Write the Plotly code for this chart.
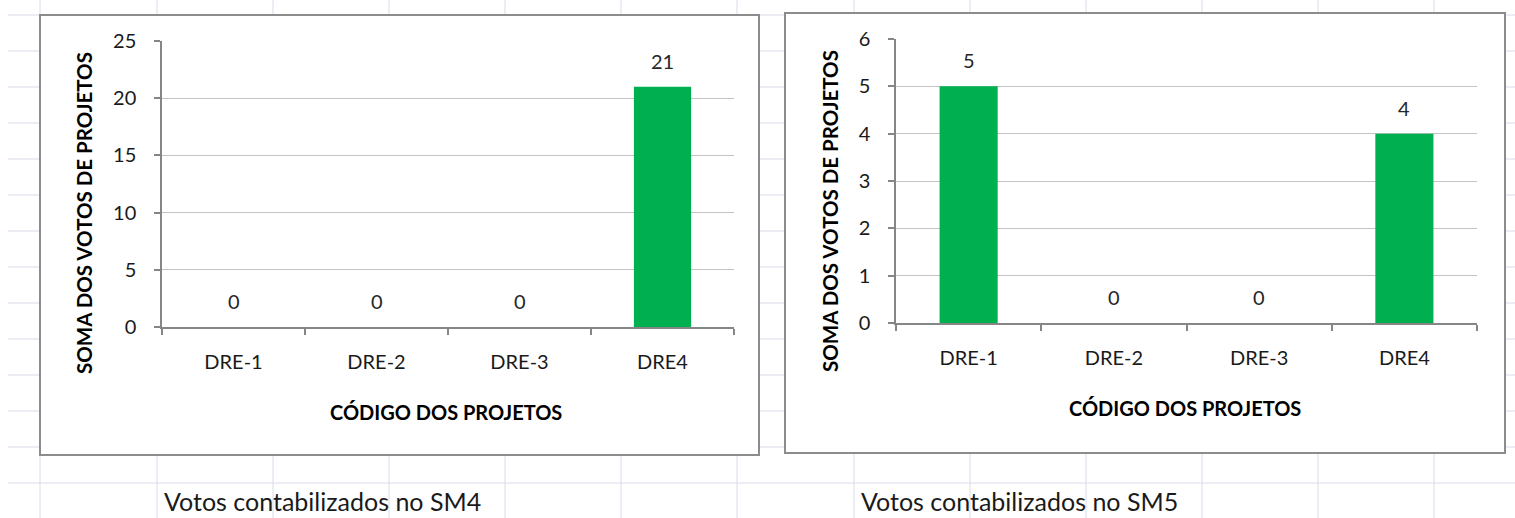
import plotly.graph_objects as go

# ---------------- data ----------------
categories = ["DRE-1", "DRE-2", "DRE-3", "DRE4"]
votes_sm4 = [0, 0, 0, 21]
votes_sm5 = [5, 0, 0, 4]
ticks_sm4 = [0, 5, 10, 15, 20, 25]
ticks_sm5 = [0, 1, 2, 3, 4, 5, 6]
y_title = "SOMA DOS VOTOS DE PROJETOS"
x_title = "CÓDIGO DOS PROJETOS"
sheet_notes = ["Votos contabilizados no SM4", "Votos contabilizados no SM5"]

# ---------------- layout helpers ----------------
W, H = 1515, 518
FONT = "Lato, 'Open Sans', sans-serif"
GREEN = "#00B050"
AXIS = "#868686"
GRID = "#c4c4c4"
SHEET = "#dadbea"
FRAME = "#8c8c8c"


def px(x):
    return x / W


def py(y):
    return 1 - y / H


# chart placement (pixels): frame, plot area, title positions
charts = [
    dict(frame=(40, 15, 759, 455), plot=(162, 41, 734, 327), ytx=84, yty=213,
         xtx=446, xty=412, note_x=162),
    dict(frame=(785, 13, 1505, 453), plot=(896, 39, 1477, 323), ytx=830, yty=211,
         xtx=1185, xty=408, note_x=859),
]
series = [votes_sm4, votes_sm5]
tickvals = [ticks_sm4, ticks_sm5]

fig = go.Figure()
shapes = []
annotations = []

# spreadsheet grid
col_x = [40, 157, 273, 389, 505, 621, 737, 854, 970, 1086, 1202, 1318, 1434]
row_y = [15, 51, 87, 123, 159, 195, 231, 267, 303, 339, 375, 411, 447, 483]
for cx in col_x:
    shapes.append(dict(type="line", xref="paper", yref="paper", x0=px(cx), x1=px(cx),
                       y0=0, y1=1, line=dict(color=SHEET, width=1), layer="below"))
for ry in row_y:
    shapes.append(dict(type="line", xref="paper", yref="paper", x0=px(8), x1=1,
                       y0=py(ry), y1=py(ry), line=dict(color=SHEET, width=1), layer="below"))

for i, ch in enumerate(charts):
    n = "" if i == 0 else str(i + 1)
    xa, ya = "x" + n, "y" + n
    fx0, fy0, fx1, fy1 = ch["frame"]
    shapes.append(dict(type="rect", xref="paper", yref="paper", x0=px(fx0), x1=px(fx1),
                       y0=py(fy1), y1=py(fy0), fillcolor="white",
                       line=dict(color=FRAME, width=2), layer="below"))
    x0, y0, x1, y1 = ch["plot"]
    vals = series[i]
    fig.add_trace(go.Bar(x=categories, y=vals, xaxis=xa, yaxis=ya, width=0.4,
                         marker=dict(color=GREEN, line=dict(width=0)),
                         hoverinfo="x+y", showlegend=False))
    tv = tickvals[i]
    fig.layout["xaxis" + n] = dict(
        domain=[px(x0), px(x1)], anchor=ya, type="category",
        categoryorder="array", categoryarray=categories, range=[-0.5, 3.5],
        showline=True, linecolor=AXIS, linewidth=1.5, showgrid=False, zeroline=False,
        ticks="outside", tickson="boundaries", ticklen=6, tickcolor=AXIS, tickwidth=1.5,
        tickfont=dict(family=FONT, size=20, color="#1a1a1a"), ticklabelstandoff=16,
        fixedrange=True)
    fig.layout["yaxis" + n] = dict(
        domain=[py(y1), py(y0)], anchor=xa, range=[tv[0], tv[-1]],
        tickmode="array", tickvals=tv,
        showline=True, linecolor=AXIS, linewidth=1.5, showgrid=True, gridcolor=GRID,
        gridwidth=1, zeroline=False, ticks="outside", ticklen=6, tickcolor=AXIS,
        tickwidth=1.5, tickfont=dict(family=FONT, size=20, color="#1a1a1a"),
        ticklabelstandoff=14, fixedrange=True)
    # data labels
    for c, v in zip(categories, vals):
        annotations.append(dict(x=c, y=v, xref=xa, yref=ya, text=str(v), showarrow=False,
                                yanchor="bottom", yshift=12,
                                font=dict(family=FONT, size=20, color="#262626")))
    # axis titles
    annotations.append(dict(x=px(ch["ytx"]), y=py(ch["yty"]), xref="paper", yref="paper",
                            text="<b>" + y_title + "</b>", textangle=-90, showarrow=False,
                            xanchor="center", yanchor="middle",
                            font=dict(family=FONT, size=20.5, color="black")))
    annotations.append(dict(x=px(ch["xtx"]), y=py(ch["xty"]), xref="paper", yref="paper",
                            text="<b>" + x_title + "</b>", showarrow=False,
                            xanchor="center", yanchor="middle",
                            font=dict(family=FONT, size=20, color="black")))
    annotations.append(dict(x=px(ch["note_x"]), y=py(501), xref="paper", yref="paper",
                            text=sheet_notes[i], showarrow=False,
                            xanchor="left", yanchor="middle",
                            font=dict(family=FONT, size=25, color="#1a1a1a")))

fig.update_layout(width=W, height=H,
                  margin=dict(l=0, r=0, t=0, b=0, pad=0, autoexpand=False),
                  paper_bgcolor="white", plot_bgcolor="rgba(0,0,0,0)",
                  shapes=shapes, annotations=annotations, bargap=0.6)

fig.write_html("out.html", config={"displayModeBar": False},
               post_script="document.body.style.margin='0';document.body.style.overflow='hidden';")
